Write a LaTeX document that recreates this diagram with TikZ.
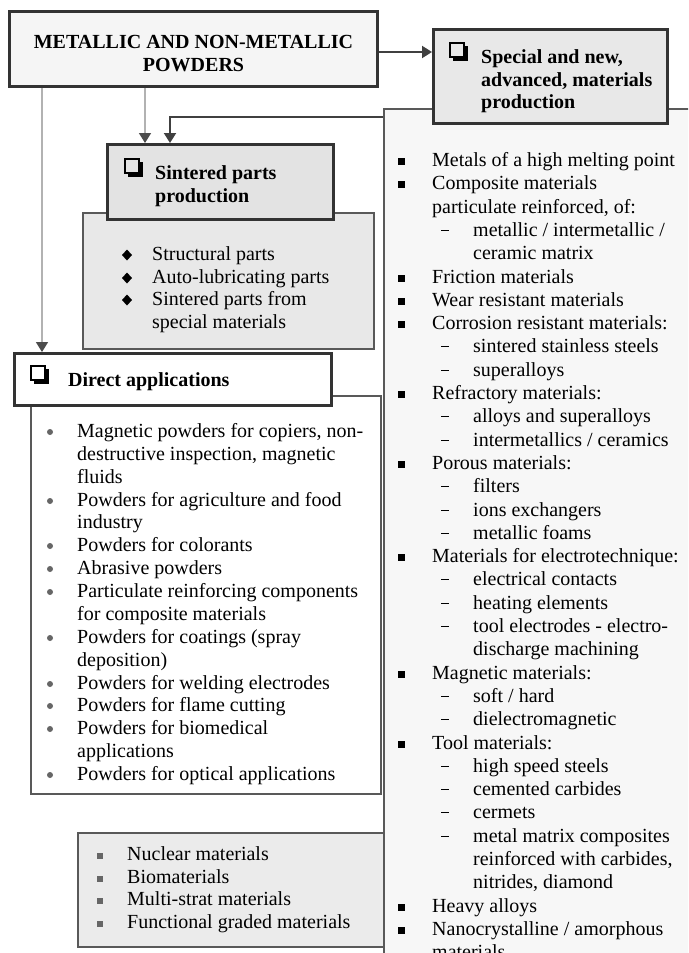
\documentclass[tikz,border=0pt]{standalone}
\usepackage{fontspec}
\setmainfont{Liberation Serif}
\usetikzlibrary{arrows.meta}
\newcommand\chkbx[2]{%
  \draw[line width=1.6pt] (#1,#2) rectangle ++(14,14);
  \fill (#1+2.5,#2+13.5) rectangle ++(15,4);
  \fill (#1+13.5,#2+2.5) rectangle ++(4,15);}
\begin{document}
\begin{tikzpicture}[x=1pt,y=-1pt,
  thickbox/.style={draw=black!80, line width=3pt, inner sep=0, anchor=north west},
  thinbox/.style={draw=black!65, line width=2pt, inner sep=0, anchor=north west},
  txt/.style={anchor=base west, inner sep=0, font=\fontsize{20}{23}\selectfont},
  hd/.style={anchor=base west, inner sep=0, font=\fontsize{20}{23}\selectfont\bfseries},
  dcon/.style={draw=black!75, line width=2pt, -{Triangle[width=12pt,length=10pt]}},
  gcon/.style={draw=black!30, line width=1.6pt, -{Triangle[width=12pt,length=10pt,color=black!70,fill=black!70]}}]
\useasboundingbox (0,0) rectangle (688,953);
\clip (0,0) rectangle (688,953);
\fill[white] (0,0) rectangle (688,953);

% boxes
\node[thickbox, fill=black!4, minimum width=368, minimum height=75] (top) at (8,10) {};
\node[thinbox, fill=black!3, minimum width=315, minimum height=860] (big) at (383,108) {};
\node[thickbox, fill=black!9, minimum width=234, minimum height=94] (special) at (432,28) {};
\node[thinbox, fill=black!9, minimum width=291, minimum height=136] (sintl) at (82,212) {};
\node[thickbox, fill=black!11, minimum width=226, minimum height=75] (sintt) at (106,143) {};
\node[thinbox, fill=white, minimum width=350, minimum height=398] (dlist) at (30,395) {};
\node[thickbox, fill=white, minimum width=317, minimum height=52] (dtitle) at (13,352) {};
\node[thinbox, fill=black!8, minimum width=306, minimum height=114] (bottom) at (77,832) {};

% connectors
\coordinate (a1) at ([yshift=-3pt]top.east);
\draw[dcon] (a1) -- (a1 -| special.west);
\coordinate (a2) at ([xshift=34pt]top.south west);
\draw[gcon] (a2) -- (a2 |- dtitle.north);
\coordinate (a3) at ([xshift=137pt]top.south west);
\draw[gcon] (a3) -- (a3 |- sintt.north);
\coordinate (a4) at ([yshift=-9pt]big.north west);
\coordinate (a5) at ([xshift=64pt]sintt.north west);
\draw[dcon] (a4) -| (a5);

% titles
\node[hd, anchor=base] (t1) at (193.5,48) {METALLIC AND NON-METALLIC};
\node[hd, anchor=base] (t2) at (193.5,71) {POWDERS};

\chkbx{450}{43}
\node[hd] (s1) at (481,63) {Special and new,};
\node[hd] (s2) at (481,86) {advanced, materials};
\node[hd] (s3) at (481,108) {production};

\chkbx{125}{159}
\node[hd] (p1) at (155,179) {Sintered parts};
\node[hd] (p2) at (155,202) {production};

\chkbx{31}{366}
\node[hd] (d0) at (68,386) {Direct applications};

% sintered list
\foreach \t [count=\i from 0] in {{Structural parts},{Auto-lubricating parts},{Sintered parts from},{special materials}}{
  \pgfmathsetmacro\yy{round(260+22.7*\i)}
  \node[txt] (sp\i) at (152,\yy) {\t};
  \ifnum\i<3 \fill (127,\yy-10.5) -- (132,\yy-5) -- (127,\yy+0.5) -- (122,\yy-5) -- cycle;\fi
}

% direct list
\foreach \k/\t [count=\i from 0] in {
  1/{Magnetic powders for copiers, non-},
  2/{destructive inspection, magnetic},
  2/{fluids},
  1/{Powders for agriculture and food},
  2/{industry},
  1/{Powders for colorants},
  1/{Abrasive powders},
  1/{Particulate reinforcing components},
  2/{for composite materials},
  1/{Powders for coatings (spray},
  2/{deposition)},
  1/{Powders for welding electrodes},
  1/{Powders for flame cutting},
  1/{Powders for biomedical},
  2/{applications},
  1/{Powders for optical applications}}{
  \pgfmathsetmacro\yy{round(437+22.87*\i)}
  \node[txt] (dl\i) at (77,\yy) {\t};
  \ifnum\k=1 \fill[black!60] (50,\yy-5) circle (3);\fi
}

% right list
\foreach \k/\t [count=\i from 0] in {
  1/{Metals of a high melting point},
  1/{Composite materials},
  2/{particulate reinforced, of:},
  3/{metallic / intermetallic /},
  4/{ceramic matrix},
  1/{Friction materials},
  1/{Wear resistant materials},
  1/{Corrosion resistant materials:},
  3/{sintered stainless steels},
  3/{superalloys},
  1/{Refractory materials:},
  3/{alloys and superalloys},
  3/{intermetallics / ceramics},
  1/{Porous materials:},
  3/{filters},
  3/{ions exchangers},
  3/{metallic foams},
  1/{Materials for electrotechnique:},
  3/{electrical contacts},
  3/{heating elements},
  3/{tool electrodes - electro-},
  4/{discharge machining},
  1/{Magnetic materials:},
  3/{soft / hard},
  3/{dielectromagnetic},
  1/{Tool materials:},
  3/{high speed steels},
  3/{cemented carbides},
  3/{cermets},
  3/{metal matrix composites},
  4/{reinforced with carbides,},
  4/{nitrides, diamond},
  1/{Heavy alloys},
  1/{Nanocrystalline / amorphous},
  2/{materials}}{
  \pgfmathsetmacro\yy{round(166+23.3*\i)}
  \ifnum\k<3 \def\xx{432}\else\def\xx{473}\fi
  \node[txt] (rl\i) at (\xx,\yy) {\t};
  \ifnum\k=1 \fill (398,\yy-1) rectangle ++(7,-7);\fi
  \ifnum\k=3 \fill (441,\yy-5) rectangle ++(8,-1.5);\fi
}

% bottom list
\foreach \t [count=\i from 0] in {{Nuclear materials},{Biomaterials},{Multi-strat materials},{Functional graded materials}}{
  \pgfmathsetmacro\yy{round(860+22.7*\i)}
  \node[txt] (bl\i) at (127,\yy) {\t};
  \fill[black!60] (97,\yy-1.5) rectangle ++(6,-6);
}
\end{tikzpicture}
\end{document}
